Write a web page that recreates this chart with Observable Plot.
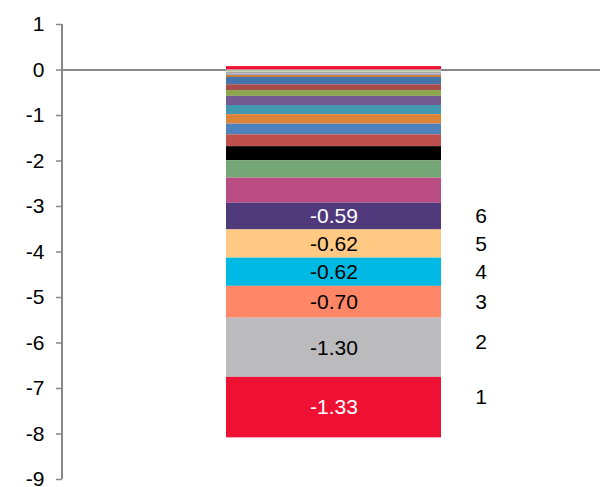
<!DOCTYPE html>
<html>
<head>
<meta charset="utf-8">
<script src="https://cdn.jsdelivr.net/npm/d3@7"></script>
<script src="https://cdn.jsdelivr.net/npm/@observablehq/plot@0.6"></script>
<style>
  html, body { margin: 0; padding: 0; background: #fff; }
</style>
</head>
<body>
<div id="chart"></div>
<script>
// segment values, stacked from zero outward (top positive one first)
const values = [0.075, -0.02, -0.035, -0.035, -0.03, -0.045, -0.16, -0.125, -0.13, -0.20, -0.20, -0.21, -0.235, -0.26, -0.31, -0.38, -0.55, -0.59, -0.62, -0.62, -0.70, -1.30, -1.33];
const colors = ["#EE1133", "#E6BFBE", "#C5D6B8", "#A6A6A6", "#A89FC0", "#C8803F", "#4674AB", "#A94A4A", "#8FA84F", "#735A90", "#4298B0", "#DD843B", "#4F81BD", "#C0504D", "#000000", "#75A675", "#B84C83", "#503A7C", "#FFC983", "#00B9E5", "#FF8767", "#BBBBBD", "#EE1133"];
const valueLabels = ["", "", "", "", "", "", "", "", "", "", "", "", "", "", "", "", "", "-0.59", "-0.62", "-0.62", "-0.70", "-1.30", "-1.33"];
const labelColors = ["", "", "", "", "", "", "", "", "", "", "", "", "", "", "", "", "", "#fff", "#000", "#000", "#000", "#000", "#fff"];
const ranks = ["", "", "", "", "", "", "", "", "", "", "", "", "", "", "", "", "", "6", "5", "4", "3", "2", "1"];
const yTicks = [1, 0, -1, -2, -3, -4, -5, -6, -7, -8, -9];

const data = values.map((v, i) => ({
  bar: "bar", value: v, color: colors[i], label: valueLabels[i], labelColor: labelColors[i] || "#000", rank: ranks[i]
}));

const axisLine = (index, scales, values, dims) => {
  const g = document.createElementNS("http://www.w3.org/2000/svg", "line");
  g.setAttribute("x1", dims.marginLeft);
  g.setAttribute("x2", dims.marginLeft);
  g.setAttribute("y1", scales.y(1));
  g.setAttribute("y2", scales.y(-9));
  g.setAttribute("stroke", "#888");
  g.setAttribute("stroke-width", 2);
  return g;
};

const rankText = (keep, dy) => Plot.text(data, Plot.stackY({
  x: "bar", y: "value", text: d => keep.includes(d.rank) ? d.rank : "", fill: "#000", fontSize: 21, dx: 147, dy
}));

const chart = Plot.plot({
  width: 600,
  height: 487,
  marginLeft: 62,
  marginRight: 0,
  marginTop: 24,
  marginBottom: 8,
  style: { fontFamily: "'Liberation Sans', Arial, sans-serif", background: "#fff", overflow: "visible" },
  x: { domain: ["bar"], range: [225.5, 441], padding: 0, axis: null },
  y: { domain: [-9, 1], axis: null },
  color: { type: "identity" },
  marks: [
    Plot.ruleY([0], { stroke: "#888", strokeWidth: 2 }),
    axisLine,
    Plot.axisY({ ticks: yTicks, label: null, tickSize: 6, tickPadding: 12, fontSize: 21, stroke: "#888", strokeWidth: 1.5, fill: "#000", tickFormat: d => d < 0 ? "-" + Math.abs(d) : String(d) }),
    Plot.barY(data, { x: "bar", y: "value", fill: "color", inset: 0, insetLeft: 0, insetRight: 0 }),
    Plot.text(data, Plot.stackY({ x: "bar", y: "value", text: "label", fill: "labelColor", fontSize: 21 })),
    rankText(["6", "5", "4", "3"], 0),
    rankText(["2"], -6),
    rankText(["1"], -10)
  ]
});
document.getElementById("chart").appendChild(chart);
</script>
</body>
</html>
